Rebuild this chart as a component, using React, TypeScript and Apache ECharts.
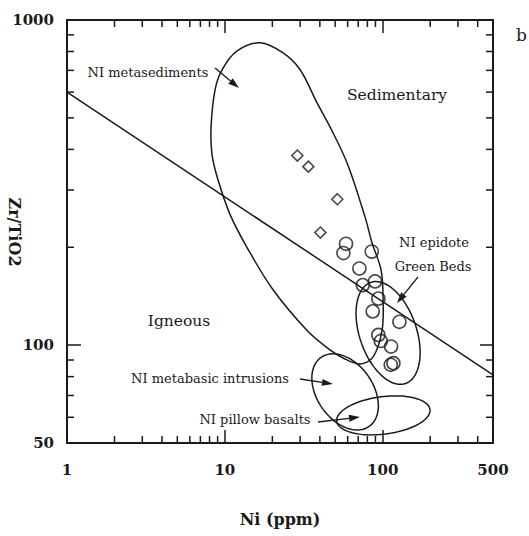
import React, { useEffect, useRef } from 'react';
import * as echarts from 'echarts';

// Axis ranges and ticks
const xRange = [1, 500];
const yRange = [50, 1000];
const xTickLabels = [1, 10, 100, 500];
const yTickLabels = [50, 100, 1000];
const xMinorTicks = [2, 3, 4, 5, 6, 7, 8, 9, 20, 30, 40, 50, 60, 70, 80, 90, 200, 300, 400];
const yMinorTicks = [60, 70, 80, 90, 200, 300, 400, 500, 600, 700, 800, 900];

// NI metasediments (diamonds)
const metasedNi = [28.8, 33.8, 51.6, 40.3];
const metasedZrTiO2 = [383, 354, 281, 222];

// NI epidote Green Beds (circles)
const epidoteNi = [58.6, 56.4, 85.3, 71.2, 74.8, 89.5, 93.9, 86.5, 127.6, 93.9, 97.3, 113, 112.5, 116.9];
const epidoteZrTiO2 = [205, 192, 194, 172, 153, 157, 139, 127, 118, 107.5, 103, 99, 87, 88];

// Igneous / Sedimentary boundary line
const boundaryNi = [1, 500];
const boundaryZrTiO2 = [600, 81];

// NI metasediments field outline (traced)
const eggNi = [16.7, 23.4, 30.0, 38.4, 46.4, 59.5, 77.3, 85.7, 97.7, 100.6, 99.1, 87.0, 71.9, 56.1, 46.4, 33.2, 20.2, 13.8, 10.8, 9.06, 8.30, 8.18, 8.67, 9.60, 11.95];
const eggZrTiO2 = [851, 792, 703, 556, 469, 363, 248, 206, 170, 138, 111, 92, 87.5, 91.3, 96.7, 111, 148, 200, 252, 322, 385, 469, 610, 703, 804];

// Elliptical fields: centre, end of first semi-axis, end of second semi-axis
const ellipseNames = ['NI epidote Green Beds', 'NI metabasic intrusions', 'NI pillow basalts'];
const ellipseCenterNi = [108.2, 57.8, 101.0];
const ellipseCenterZr = [109.0, 71.8, 60.8];
const ellipseAxisANi = [139.5, 82.0, 199.4];
const ellipseAxisAZr = [76.2, 56.2, 63.4];
const ellipseAxisBNi = [160.2, 80.9, 104.6];
const ellipseAxisBZr = [116.5, 80.4, 53.3];

const INK = '#1a1a1a';
const SERIF = '"DejaVu Serif", "Liberation Serif", serif';

function arrow(x1: number, y1: number, x2: number, y2: number) {
  const ang = Math.atan2(y2 - y1, x2 - x1);
  const L = 11;
  const W = 3.5;
  const bx = x2 - L * Math.cos(ang);
  const by = y2 - L * Math.sin(ang);
  return {
    type: 'group',
    children: [
      { type: 'line', shape: { x1, y1, x2: bx, y2: by }, style: { stroke: INK, lineWidth: 1.3 } },
      {
        type: 'polygon',
        shape: {
          points: [
            [x2, y2],
            [bx + W * Math.sin(ang), by - W * Math.cos(ang)],
            [bx - W * Math.sin(ang), by + W * Math.cos(ang)],
          ],
        },
        style: { fill: INK },
      },
    ],
  };
}

function label(text: string, x: number, y: number, size: number) {
  return {
    type: 'text',
    x,
    y,
    style: {
      text,
      fill: INK,
      font: `${size}px ${SERIF}`,
      textAlign: 'center',
      textVerticalAlign: 'middle',
    },
  };
}

export default function App() {
  const ref = useRef<HTMLDivElement>(null);
  useEffect(() => {
    if (!ref.current) return;
    const chart = echarts.init(ref.current, undefined, { renderer: 'svg' });

    const tickLine = { lineStyle: { color: INK, width: 1.5 } };
    const axisLine = { show: true, lineStyle: { color: INK, width: 2 } };
    const labelStyle = {
      fontFamily: SERIF,
      fontWeight: 'bold' as const,
      fontSize: 15,
      color: INK,
    };

    const option: any = {
      animation: false,
      backgroundColor: '#fff',
      grid: { left: 67, top: 20, right: 36, bottom: 93, containLabel: false, outerBoundsMode: 'none' },
      xAxis: [
        {
          type: 'log',
          logBase: 10,
          min: xRange[0],
          max: xRange[1],
          position: 'bottom',
          axisLine,
          axisTick: { show: true, inside: true, length: 13, ...tickLine },
          splitLine: { show: false },
          axisLabel: {
            ...labelStyle,
            margin: 19,
            showMinLabel: true,
            showMaxLabel: true,
            formatter: (v: number) => {
              const r = Math.round(v);
              return xTickLabels.includes(r) ? String(r) : '';
            },
          },
          name: 'Ni (ppm)',
          nameLocation: 'middle',
          nameGap: 68,
          nameTextStyle: { fontFamily: SERIF, fontWeight: 'bold', fontSize: 16, color: INK },
        },
        {
          type: 'log',
          logBase: 10,
          min: xRange[0],
          max: xRange[1],
          position: 'top',
          axisLine,
          axisTick: { show: true, inside: true, length: 13, ...tickLine },
          splitLine: { show: false },
          axisLabel: { show: false },
        },
      ],
      yAxis: [
        {
          type: 'log',
          logBase: 10,
          min: yRange[0],
          max: yRange[1],
          position: 'left',
          axisLine,
          axisTick: { show: true, inside: true, length: 14, ...tickLine },
          splitLine: { show: false },
          axisLabel: {
            ...labelStyle,
            margin: 13,
            showMinLabel: true,
            showMaxLabel: true,
            formatter: (v: number) => {
              const r = Math.round(v);
              return yTickLabels.includes(r) ? String(r) : '';
            },
          },
        },
        {
          type: 'log',
          logBase: 10,
          min: yRange[0],
          max: yRange[1],
          position: 'right',
          axisLine,
          axisTick: { show: true, inside: true, length: 13, ...tickLine },
          splitLine: { show: false },
          axisLabel: { show: false },
        },
      ],
      series: [
        {
          name: 'x minor ticks',
          type: 'custom',
          silent: true,
          data: xMinorTicks.map((v) => [v, yRange[0]]),
          encode: { x: 0, y: 1 },
          renderItem: (_p: any, api: any) => {
            const v = api.value(0);
            const b = api.coord([v, yRange[0]]);
            const t = api.coord([v, yRange[1]]);
            return {
              type: 'group',
              children: [
                { type: 'line', shape: { x1: b[0], y1: b[1], x2: b[0], y2: b[1] - 7 }, style: { stroke: INK, lineWidth: 1.5 } },
                { type: 'line', shape: { x1: t[0], y1: t[1], x2: t[0], y2: t[1] + 7 }, style: { stroke: INK, lineWidth: 1.5 } },
              ],
            };
          },
        },
        {
          name: 'y minor ticks',
          type: 'custom',
          silent: true,
          data: yMinorTicks.map((v) => [xRange[0], v]),
          encode: { x: 0, y: 1 },
          renderItem: (_p: any, api: any) => {
            const v = api.value(1);
            const l = api.coord([xRange[0], v]);
            const r = api.coord([xRange[1], v]);
            return {
              type: 'group',
              children: [
                { type: 'line', shape: { x1: l[0], y1: l[1], x2: l[0] + 7, y2: l[1] }, style: { stroke: INK, lineWidth: 1.5 } },
                { type: 'line', shape: { x1: r[0], y1: r[1], x2: r[0] - 7, y2: r[1] }, style: { stroke: INK, lineWidth: 1.5 } },
              ],
            };
          },
        },
        {
          name: 'Igneous / Sedimentary boundary',
          type: 'line',
          data: boundaryNi.map((v, i) => [v, boundaryZrTiO2[i]]),
          symbol: 'none',
          lineStyle: { color: INK, width: 1.5 },
          silent: true,
        },
        {
          name: 'NI metasediments field',
          type: 'custom',
          silent: true,
          data: eggNi.map((v, i) => [v, eggZrTiO2[i]]),
          encode: { x: 0, y: 1 },
          renderItem: (p: any, api: any) => {
            if (p.dataIndex !== 0) return null;
            const pts = eggNi.map((v, i) => api.coord([v, eggZrTiO2[i]]));
            return {
              type: 'polygon',
              shape: { points: pts, smooth: 0.35 },
              style: { fill: 'none', stroke: INK, lineWidth: 1.5 },
            };
          },
        },
        {
          name: 'Fields',
          type: 'custom',
          silent: true,
          data: ellipseNames.map((_n, i) => [ellipseCenterNi[i], ellipseCenterZr[i]]),
          encode: { x: 0, y: 1 },
          renderItem: (p: any, api: any) => {
            const i = p.dataIndex;
            const cx = Math.log10(ellipseCenterNi[i]);
            const cy = Math.log10(ellipseCenterZr[i]);
            const ax = Math.log10(ellipseAxisANi[i]) - cx;
            const ay = Math.log10(ellipseAxisAZr[i]) - cy;
            const bx = Math.log10(ellipseAxisBNi[i]) - cx;
            const by = Math.log10(ellipseAxisBZr[i]) - cy;
            const pts: number[][] = [];
            const n = 96;
            for (let k = 0; k < n; k++) {
              const t = (k / n) * Math.PI * 2;
              const lx = cx + ax * Math.cos(t) + bx * Math.sin(t);
              const ly = cy + ay * Math.cos(t) + by * Math.sin(t);
              pts.push(api.coord([Math.pow(10, lx), Math.pow(10, ly)]));
            }
            return {
              type: 'polygon',
              shape: { points: pts },
              style: { fill: 'none', stroke: INK, lineWidth: 1.5 },
            };
          },
        },
        {
          name: 'NI metasediments',
          type: 'scatter',
          data: metasedNi.map((v, i) => [v, metasedZrTiO2[i]]),
          symbol: 'diamond',
          symbolSize: 11,
          itemStyle: { color: 'rgba(255,255,255,0)', borderColor: INK, borderWidth: 1.6 },
        },
        {
          name: 'NI epidote Green Beds',
          type: 'scatter',
          data: epidoteNi.map((v, i) => [v, epidoteZrTiO2[i]]),
          symbol: 'circle',
          symbolSize: 13,
          itemStyle: { color: 'rgba(255,255,255,0)', borderColor: INK, borderWidth: 1.6 },
        },
      ],
      graphic: [
        {
          type: 'text',
          x: 14,
          y: 232,
          rotation: -Math.PI / 2,
          style: {
            text: 'Zr/TiO2',
            fill: INK,
            font: `bold 16px ${SERIF}`,
            textAlign: 'center',
            textVerticalAlign: 'middle',
          },
        },
        label('NI metasediments', 148, 72, 13),
        arrow(215, 68, 239, 88),
        label('Sedimentary', 397, 95, 15.5),
        label('Igneous', 179, 321, 15.5),
        label('NI epidote', 434, 242, 13),
        label('Green Beds', 433, 266, 13),
        arrow(418, 277, 397, 303),
        label('NI metabasic intrusions', 210, 378, 13),
        arrow(300, 379, 333, 384),
        label('NI pillow basalts', 255, 419, 13),
        arrow(318, 422, 360, 417),
        {
          type: 'text',
          x: 516,
          y: 35,
          style: { text: 'b', fill: INK, font: `17px ${SERIF}`, textAlign: 'left', textVerticalAlign: 'middle' },
        },
      ],
    };

    chart.setOption(option);
    return () => chart.dispose();
  }, []);

  return (
    <div
      ref={ref}
      style={{ position: 'absolute', left: 0, top: 0, width: 529, height: 536, background: '#fff' }}
    />
  );
}
